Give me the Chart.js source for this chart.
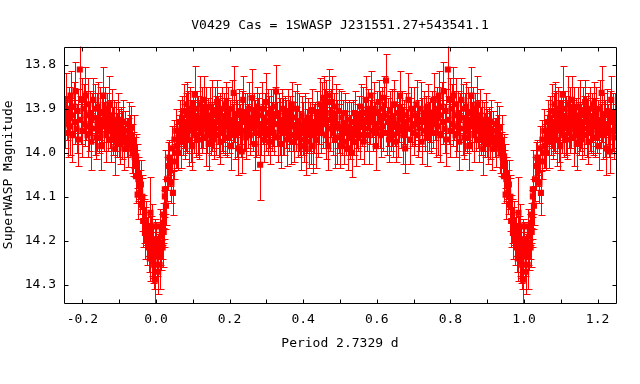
<!DOCTYPE html>
<html>
<head>
<meta charset="utf-8">
<script src="https://cdn.jsdelivr.net/npm/chart.js@4"></script>
<style>
  body { margin: 0; background: #fff; }
  canvas { display: block; }
</style>
</head>
<body>
<canvas id="curva" width="640" height="384"></canvas>
<script>
// fase (0..1), magnitud SuperWASP y su error
const phase = [
  0.001, 0.003, 0.005, 0.006, 0.008, 0.010, 0.010, 0.012, 0.013, 0.015,
  0.016, 0.018, 0.019, 0.021, 0.022, 0.024, 0.024, 0.027, 0.030, 0.033,
  0.036, 0.038, 0.042, 0.044, 0.046, 0.048, 0.050, 0.053, 0.055, 0.058,
  0.060, 0.062, 0.065, 0.067, 0.069,
  0.071, 0.073, 0.075, 0.077, 0.079, 0.081, 0.083, 0.085, 0.087, 0.089,
  0.091, 0.093, 0.095, 0.097, 0.099, 0.101, 0.103, 0.105, 0.107, 0.109,
  0.111, 0.113, 0.115, 0.118, 0.120, 0.122, 0.124, 0.126, 0.128, 0.130,
  0.132, 0.135, 0.137, 0.139, 0.141, 0.143, 0.146, 0.148, 0.150, 0.152,
  0.155, 0.157, 0.159, 0.162, 0.164, 0.166, 0.168, 0.171, 0.173, 0.175,
  0.178, 0.180, 0.182, 0.185, 0.187, 0.190, 0.192, 0.194, 0.197, 0.199,
  0.202, 0.204, 0.206, 0.209, 0.211, 0.213, 0.216, 0.218, 0.220, 0.223,
  0.225, 0.228, 0.230, 0.233, 0.235, 0.237, 0.240, 0.242, 0.245, 0.247,
  0.250, 0.253, 0.255, 0.258, 0.260, 0.263, 0.265, 0.268, 0.270, 0.272,
  0.275, 0.278, 0.280, 0.283, 0.285, 0.288, 0.290, 0.293, 0.295, 0.298,
  0.300, 0.303, 0.305, 0.308, 0.310, 0.313, 0.315, 0.318, 0.320, 0.323,
  0.326, 0.328, 0.331, 0.333, 0.336, 0.338, 0.341, 0.343, 0.346, 0.349,
  0.351, 0.354, 0.356, 0.359, 0.362, 0.364, 0.367, 0.369, 0.372, 0.375,
  0.377, 0.380, 0.383, 0.385, 0.388, 0.391, 0.393, 0.396, 0.399, 0.402,
  0.404, 0.407, 0.410, 0.413, 0.415, 0.418, 0.421, 0.423, 0.426, 0.429,
  0.432, 0.434, 0.437, 0.440, 0.443, 0.445, 0.448,
  0.451, 0.453, 0.456, 0.458, 0.461, 0.463, 0.466, 0.468, 0.471, 0.473,
  0.476, 0.478, 0.481, 0.483, 0.486, 0.488, 0.491, 0.493, 0.496, 0.498,
  0.501, 0.504, 0.506, 0.509, 0.511, 0.514, 0.516, 0.519, 0.521, 0.524,
  0.527, 0.529, 0.532, 0.535, 0.537, 0.540, 0.543, 0.545, 0.548,
  0.551, 0.554, 0.556, 0.559, 0.562, 0.564, 0.567, 0.570, 0.573, 0.575,
  0.578, 0.581, 0.583, 0.586, 0.589, 0.592, 0.594, 0.597, 0.600, 0.602,
  0.605, 0.608, 0.611, 0.613, 0.616, 0.619, 0.622, 0.625, 0.627, 0.630,
  0.633, 0.636, 0.638, 0.641, 0.644, 0.647, 0.650, 0.652, 0.655, 0.658,
  0.661, 0.663, 0.666, 0.669, 0.672, 0.675, 0.677, 0.680, 0.683, 0.686,
  0.689, 0.691, 0.694, 0.697, 0.700, 0.702, 0.705, 0.708, 0.711, 0.713,
  0.716, 0.719, 0.722, 0.724, 0.727, 0.730, 0.733, 0.736, 0.738, 0.741,
  0.744, 0.747, 0.749,
  0.752, 0.755, 0.757, 0.760, 0.763, 0.765, 0.768, 0.771, 0.773, 0.776,
  0.779, 0.781, 0.784, 0.787, 0.789, 0.793, 0.795, 0.798, 0.800, 0.803,
  0.806, 0.808, 0.811, 0.814, 0.816, 0.819, 0.822, 0.824, 0.827, 0.830,
  0.833, 0.835, 0.838, 0.841, 0.843, 0.846, 0.849, 0.851, 0.854, 0.857,
  0.859, 0.862, 0.865, 0.867, 0.870, 0.873, 0.876, 0.878, 0.881, 0.884,
  0.886, 0.889, 0.892, 0.895, 0.897, 0.900, 0.903, 0.906, 0.908, 0.911,
  0.914, 0.917,
  0.920, 0.923, 0.926, 0.929, 0.932, 0.935, 0.937, 0.940, 0.942, 0.946,
  0.946, 0.948, 0.950, 0.952, 0.955, 0.957, 0.959, 0.961, 0.963, 0.965,
  0.968, 0.970, 0.972, 0.975, 0.978, 0.981, 0.983, 0.985, 0.986, 0.988,
  0.990, 0.991, 0.993, 0.995, 0.996, 0.997, 0.998
];

const mag = [
  14.197, 14.235, 14.22, 14.27, 14.205, 14.254, 14.167, 14.21, 14.232, 14.19,
  14.175, 14.215, 14.159, 14.18, 14.14, 14.099, 14.083, 14.12, 14.06, 14.03,
  14.011, 14.04, 14.068, 13.99, 14.091, 14.02, 13.97, 14.0, 13.95, 13.985,
  14.0, 13.96, 13.93, 13.975, 13.945,
  13.92, 13.96, 13.905, 13.94, 13.975, 13.93, 13.89, 13.955, 13.915, 13.97,
  13.935, 13.9, 13.95, 13.925, 13.985, 13.91, 13.94, 13.868, 13.93, 13.96,
  13.9, 13.945, 13.92, 13.97, 13.89, 13.935, 13.955, 13.91, 13.94, 13.88,
  13.925, 13.965, 13.9, 13.945, 13.92, 13.98, 13.935, 13.895, 13.95, 13.915,
  13.94, 13.97, 13.905, 13.93, 13.96, 13.885, 13.925, 13.945, 13.91, 13.975,
  13.935, 13.9, 13.955, 13.92, 13.94, 13.89, 13.965, 13.93, 13.91, 13.95,
  13.925, 13.985, 13.9, 13.94, 13.864, 13.93, 13.96, 13.915, 13.945, 13.99,
  13.905, 13.935, 13.955, 13.997, 13.92, 13.88, 13.95, 13.93, 13.965, 13.91,
  13.94, 13.9, 13.96, 13.925, 13.875, 13.945, 13.91, 13.98, 13.93, 13.955,
  13.895, 13.94, 13.915, 14.027, 13.95, 13.9, 13.935, 13.97, 13.92, 13.885,
  13.945, 13.96, 13.91, 13.93, 13.975, 13.9, 13.94, 13.92, 13.955, 13.895,
  13.861, 13.935, 13.965, 13.91, 13.945, 13.925, 13.98, 13.9, 13.94, 13.955,
  13.915, 13.935, 13.97, 13.905, 13.95, 13.925, 13.96, 13.89, 13.94, 13.975,
  13.92, 13.945, 13.9, 13.965, 13.93, 13.955, 13.985, 13.915, 13.945, 13.97,
  13.93, 13.99, 13.95, 13.92, 13.975, 13.94, 13.96, 13.905, 13.985, 13.945,
  13.93, 13.97, 13.91, 13.955, 13.935, 13.89, 13.95,
  13.9, 13.935, 13.875, 13.915, 13.96, 13.885, 13.925, 13.985, 13.87, 13.945,
  13.91, 13.885, 13.955, 13.92, 13.97, 13.895, 13.935, 13.965, 13.905, 13.945,
  13.985, 13.92, 13.955, 13.935, 13.975, 13.91, 13.955, 13.94, 13.99, 13.925,
  13.965, 13.945, 14.0, 13.93, 13.96, 13.91, 13.975, 13.94, 13.95,
  13.92, 13.96, 13.895, 13.94, 13.91, 13.975, 13.925, 13.88, 13.945, 13.9,
  13.96, 13.93, 13.87, 13.915, 13.95, 13.9, 13.935, 13.985, 13.91, 13.945,
  13.885, 13.925, 13.96, 13.9, 13.94, 13.875, 13.915, 13.836, 13.955, 13.93,
  13.97, 13.905, 13.945, 13.92, 13.96, 13.89, 13.935, 13.975, 13.91, 13.95,
  13.925, 13.87, 13.94, 13.905, 13.96, 13.93, 13.99, 13.915, 13.945, 13.88,
  13.925, 13.97, 13.9, 13.94, 13.955, 13.915, 13.935, 13.89, 13.96, 13.925,
  13.945, 13.9, 13.975, 13.93, 13.91, 13.95, 13.92, 13.965, 13.895, 13.94,
  13.925, 13.955, 13.91,
  13.935, 13.88, 13.92, 13.955, 13.9, 13.94, 13.87, 13.915, 13.96, 13.895,
  13.93, 13.86, 13.945, 13.905, 13.97, 13.811, 13.925, 13.88, 13.95, 13.9,
  13.935, 13.87, 13.915, 13.96, 13.89, 13.94, 13.91, 13.975, 13.92, 13.88,
  13.945, 13.9, 13.965, 13.93, 13.895, 13.95, 13.91, 13.985, 13.925, 13.87,
  13.94, 13.9, 13.96, 13.92, 13.945, 13.89, 13.935, 13.97, 13.915, 13.95,
  13.93, 13.99, 13.94, 13.96, 13.925, 13.955, 13.975, 13.94, 13.96, 13.93,
  13.99, 13.95,
  13.965, 13.977, 13.935, 13.96, 13.943, 13.99, 14.002, 13.975, 14.01, 14.008,
  14.053, 14.03, 14.095, 14.06, 14.061, 14.09, 14.072, 14.118, 14.1, 14.155,
  14.155, 14.182, 14.16, 14.2, 14.185, 14.215, 14.24, 14.136, 14.193, 14.225,
  14.167, 14.224, 14.245, 14.254, 14.2, 14.288, 14.23
];

const magErr = [
  0.04, 0.045, 0.035, 0.05, 0.035, 0.055, 0.04, 0.045, 0.035, 0.05,
  0.035, 0.045, 0.045, 0.035, 0.055, 0.04, 0.09, 0.045, 0.05, 0.055,
  0.04, 0.035, 0.045, 0.05, 0.05, 0.04, 0.045, 0.035, 0.05, 0.05,
  0.04, 0.045, 0.05, 0.06, 0.04,
  0.05, 0.045, 0.06, 0.05, 0.04, 0.065, 0.05, 0.045, 0.055, 0.06,
  0.04, 0.05, 0.07, 0.045, 0.055, 0.05, 0.06, 0.065, 0.045, 0.05,
  0.04, 0.06, 0.05, 0.045, 0.065, 0.055, 0.045, 0.06, 0.05, 0.055,
  0.045, 0.065, 0.05, 0.055, 0.045, 0.06, 0.05, 0.045, 0.055, 0.08,
  0.05, 0.045, 0.055, 0.06, 0.045, 0.05, 0.055, 0.065, 0.045, 0.05,
  0.06, 0.05, 0.045, 0.055, 0.065, 0.05, 0.045, 0.055, 0.06, 0.05,
  0.045, 0.055, 0.065, 0.05, 0.06, 0.045, 0.055, 0.05, 0.065, 0.06,
  0.05, 0.045, 0.055, 0.05, 0.06, 0.055, 0.045, 0.065, 0.05, 0.045,
  0.05, 0.06, 0.045, 0.055, 0.065, 0.05, 0.045, 0.06, 0.05, 0.055,
  0.045, 0.065, 0.05, 0.08, 0.055, 0.06, 0.045, 0.05, 0.055, 0.065,
  0.05, 0.045, 0.055, 0.06, 0.05, 0.045, 0.055, 0.065, 0.05, 0.045,
  0.06, 0.05, 0.055, 0.045, 0.06, 0.05, 0.055, 0.045, 0.065, 0.05,
  0.045, 0.055, 0.06, 0.05, 0.045, 0.055, 0.065, 0.05, 0.055, 0.045,
  0.06, 0.05, 0.055, 0.045, 0.065, 0.05, 0.055, 0.045, 0.06, 0.05,
  0.065, 0.06, 0.05, 0.045, 0.06, 0.055, 0.065, 0.05, 0.06, 0.055,
  0.045, 0.065, 0.05, 0.055, 0.045, 0.06, 0.05,
  0.06, 0.055, 0.05, 0.06, 0.055, 0.05, 0.065, 0.055, 0.06, 0.05,
  0.055, 0.06, 0.05, 0.055, 0.065, 0.05, 0.055, 0.06, 0.05, 0.055,
  0.05, 0.06, 0.05, 0.055, 0.05, 0.045, 0.05, 0.055, 0.05, 0.045,
  0.05, 0.06, 0.055, 0.05, 0.045, 0.05, 0.055, 0.05, 0.045,
  0.05, 0.055, 0.05, 0.045, 0.06, 0.05, 0.05, 0.055, 0.05, 0.045,
  0.065, 0.05, 0.055, 0.05, 0.045, 0.06, 0.05, 0.055, 0.05, 0.045,
  0.05, 0.065, 0.05, 0.05, 0.055, 0.05, 0.045, 0.06, 0.05, 0.055,
  0.05, 0.045, 0.05, 0.065, 0.05, 0.055, 0.05, 0.045, 0.05, 0.06,
  0.05, 0.055, 0.05, 0.045, 0.065, 0.05, 0.055, 0.05, 0.045, 0.06,
  0.05, 0.055, 0.05, 0.045, 0.05, 0.065, 0.05, 0.055, 0.05, 0.045,
  0.05, 0.06, 0.05, 0.055, 0.05, 0.045, 0.05, 0.065, 0.05, 0.055,
  0.05, 0.045, 0.05,
  0.055, 0.06, 0.05, 0.055, 0.05, 0.065, 0.055, 0.05, 0.06, 0.055,
  0.05, 0.065, 0.055, 0.05, 0.06, 0.06, 0.055, 0.05, 0.06, 0.055,
  0.05, 0.065, 0.055, 0.05, 0.06, 0.055, 0.05, 0.065, 0.055, 0.05,
  0.06, 0.055, 0.05, 0.065, 0.055, 0.05, 0.06, 0.055, 0.05, 0.065,
  0.055, 0.05, 0.06, 0.055, 0.05, 0.065, 0.055, 0.05, 0.06, 0.055,
  0.05, 0.06, 0.055, 0.05, 0.06, 0.055, 0.05, 0.045, 0.055, 0.05,
  0.05, 0.045,
  0.045, 0.055, 0.05, 0.045, 0.05, 0.055, 0.05, 0.06, 0.045, 0.05,
  0.06, 0.05, 0.055, 0.05, 0.045, 0.05, 0.055, 0.06, 0.05, 0.06,
  0.05, 0.06, 0.05, 0.055, 0.05, 0.055, 0.05, 0.08, 0.05, 0.055,
  0.05, 0.06, 0.05, 0.055, 0.05, 0.06, 0.05
];

const xTicks = [-0.2, -0.1, 0.0, 0.1, 0.2, 0.3, 0.4, 0.5, 0.6, 0.7, 0.8, 0.9, 1.0, 1.1, 1.2];
const yTicks = [13.8, 13.9, 14.0, 14.1, 14.2, 14.3];

const titulo = "V0429 Cas = 1SWASP J231551.27+543541.1";
const tituloX = "Period 2.7329 d";
const tituloY = "SuperWASP Magnitude";

const fuente = "'DejaVu Sans Mono', 'Liberation Mono', monospace";
const rojo = "#ff0000";

// la curva se repite fuera de 0..1 (fase plegada)
const puntos = [];
phase.forEach((p, i) => {
  const d = { y: mag[i], e: magErr[i] };
  puntos.push({ x: p, ...d });
  if (p >= 0.75) puntos.push({ x: p - 1, ...d });
  if (p <= 0.25) puntos.push({ x: p + 1, ...d });
});

const barrasError = {
  id: "barrasError",
  beforeDatasetsDraw: (chart) => {
    const { ctx, chartArea, scales } = chart;
    ctx.save();
    ctx.beginPath();
    ctx.rect(chartArea.left, chartArea.top, chartArea.width, chartArea.height);
    ctx.clip();
    ctx.strokeStyle = rojo;
    ctx.lineWidth = 1;
    ctx.beginPath();
    chart.data.datasets[0].data.forEach((d) => {
      const px = Math.round(scales.x.getPixelForValue(d.x)) + 0.5;
      const y1 = Math.round(scales.y.getPixelForValue(d.y - d.e)) + 0.5;
      const y2 = Math.round(scales.y.getPixelForValue(d.y + d.e)) + 0.5;
      ctx.moveTo(px, y1);
      ctx.lineTo(px, y2);
      ctx.moveTo(px - 3, y1);
      ctx.lineTo(px + 4, y1);
      ctx.moveTo(px - 3, y2);
      ctx.lineTo(px + 4, y2);
    });
    ctx.stroke();
    ctx.restore();
  },
};

// marco y marcas hacia dentro en los cuatro lados
const marco = {
  id: "marco",
  afterDraw: (chart) => {
    const { ctx, chartArea, scales } = chart;
    const l = Math.round(chartArea.left) + 0.5;
    const r = Math.round(chartArea.right) + 0.5;
    const t = Math.round(chartArea.top) + 0.5;
    const b = Math.round(chartArea.bottom) + 0.5;
    const largo = 4;
    ctx.save();
    ctx.strokeStyle = "#000";
    ctx.lineWidth = 1;
    ctx.beginPath();
    ctx.rect(l, t, r - l, b - t);
    xTicks.forEach((v) => {
      const px = Math.round(scales.x.getPixelForValue(v)) + 0.5;
      ctx.moveTo(px, b);
      ctx.lineTo(px, b - largo);
      ctx.moveTo(px, t);
      ctx.lineTo(px, t + largo);
    });
    yTicks.forEach((v) => {
      const py = Math.round(scales.y.getPixelForValue(v)) + 0.5;
      ctx.moveTo(l, py);
      ctx.lineTo(l + largo, py);
      ctx.moveTo(r, py);
      ctx.lineTo(r - largo, py);
    });
    ctx.stroke();
    ctx.restore();
  },
};

Chart.defaults.color = "#000";
Chart.defaults.font.family = fuente;
Chart.defaults.font.size = 13;

new Chart(document.getElementById("curva"), {
  type: "scatter",
  data: {
    datasets: [
      {
        data: puntos,
        pointStyle: "rect",
        pointRadius: 4.3,
        pointHoverRadius: 4.3,
        pointBorderWidth: 0,
        backgroundColor: rojo,
        borderColor: rojo,
      },
    ],
  },
  options: {
    responsive: false,
    animation: false,
    events: [],
    layout: { padding: { left: 0, right: 24, top: 0, bottom: 0 } },
    plugins: {
      legend: { display: false },
      tooltip: { enabled: false },
      title: {
        display: true,
        fullSize: false,
        text: titulo,
        font: { family: fuente, size: 13, weight: "normal", lineHeight: 1.2 },
        padding: { top: 18, bottom: 13 },
      },
    },
    scales: {
      x: {
        type: "linear",
        min: -0.25,
        max: 1.25,
        grid: { display: false, drawTicks: false },
        border: { display: false },
        afterBuildTicks: (scale) => {
          scale.ticks = xTicks.map((v) => ({ value: v }));
        },
        afterFit: (scale) => {
          scale.height = 81;
          scale.paddingLeft = 0;
          scale.paddingRight = 0;
        },
        ticks: {
          padding: 9,
          maxRotation: 0,
          autoSkip: false,
          callback: (v) => (Math.round(v * 10) % 2 === 0 ? v.toFixed(1) : ""),
        },
        title: {
          display: true,
          text: tituloX,
          font: { family: fuente, size: 13, lineHeight: 1.2 },
          padding: { top: 0, bottom: 33 },
        },
      },
      y: {
        type: "linear",
        reverse: true,
        min: 13.759,
        max: 14.341,
        grid: { display: false, drawTicks: false },
        border: { display: false },
        afterBuildTicks: (scale) => {
          scale.ticks = yTicks.map((v) => ({ value: v }));
        },
        afterFit: (scale) => {
          scale.width = 64;
        },
        ticks: {
          padding: 8,
          autoSkip: false,
          callback: (v) => v.toFixed(1),
        },
        title: {
          display: true,
          text: tituloY,
          font: { family: fuente, size: 13, lineHeight: 1.2 },
          padding: { top: 1, bottom: 0 },
        },
      },
    },
  },
  plugins: [barrasError, marco],
});
</script>
</body>
</html>
